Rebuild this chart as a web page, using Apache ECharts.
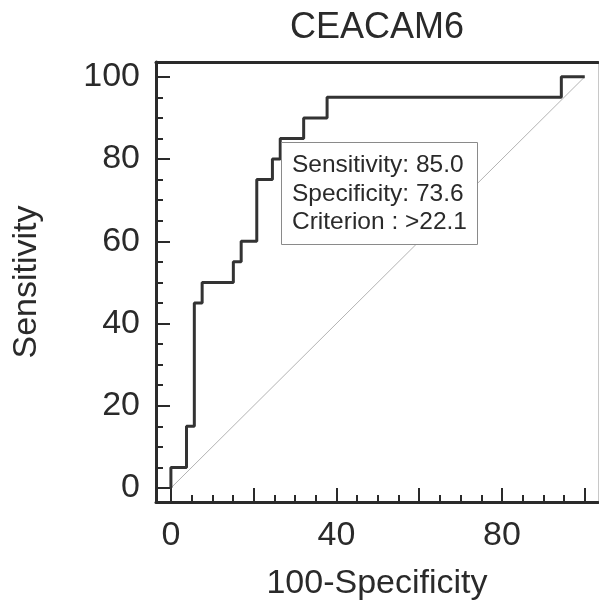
<!DOCTYPE html>
<html>
<head>
<meta charset="utf-8">
<script src="https://cdn.jsdelivr.net/npm/echarts@6/dist/echarts.min.js"></script>
<style>
html,body{margin:0;padding:0;background:#fff;}
#chart{width:599px;height:606px;}
</style>
</head>
<body>
<div id="chart"></div>
<script>
// ROC curve points (100-Specificity, Sensitivity), drawn as steps
var rocFpr  = [0, 0, 3.77, 5.66, 7.55, 15.09, 16.98, 20.75, 24.53, 26.42, 32.08, 37.74, 94.34, 100];
var rocSens = [0, 5, 15,   45,   50,   55,    60,    75,    80,    85,    90,    95,    100,   100];
// Reference diagonal
var diagX = [0, 100];
var diagY = [0, 100];
// Axis ticks and labels
var xMajorTicks = [0, 20, 40, 60, 80, 100];
var xMinorTicks = [5, 10, 15, 25, 30, 35, 45, 50, 55, 65, 70, 75, 85, 90, 95];
var xTickLabels = [0, 40, 80];
var yMajorTicks = [0, 20, 40, 60, 80, 100];
var yMinorTicks = [5, 10, 15, 25, 30, 35, 45, 50, 55, 65, 70, 75, 85, 90, 95];
var yTickLabels = [0, 20, 40, 60, 80, 100];
// Annotation box text
var boxLines = ['Sensitivity: 85.0', 'Specificity: 73.6', 'Criterion : >22.1'];

var FONT = 'Liberation Sans, Arial, sans-serif';
var INK = '#2a2a2a';
var X_MIN = -3.6, X_MAX = 103.2, Y_MIN = -3.4, Y_MAX = 103.6;

function zip(a, b) { return a.map(function (v, i) { return [v, b[i]]; }); }

var chart = echarts.init(document.getElementById('chart'), null, {renderer: 'canvas'});

function baseAxis(extra) {
  var o = {
    type: 'value',
    splitLine: {show: false},
    axisLine: {show: false, onZero: false},
    axisTick: {show: false},
    axisLabel: {show: false},
    axisPointer: {show: false}
  };
  for (var k in extra) o[k] = extra[k];
  return o;
}

var option = {
  animation: false,
  backgroundColor: '#fff',
  title: {
    text: 'CEACAM6',
    left: 377, textAlign: 'center',
    top: 10,
    padding: 0,
    textStyle: {fontFamily: FONT, fontSize: 36, fontWeight: 'normal', color: INK}
  },
  grid: {left: 156, right: 1, top: 62, bottom: 102, containLabel: false},
  xAxis: [
    baseAxis({
      position: 'bottom', min: X_MIN, max: X_MAX,
      axisLine: {show: true, onZero: false, lineStyle: {color: INK, width: 3}},
      axisTick: {show: true, inside: true, length: 14, customValues: xMajorTicks, lineStyle: {color: INK, width: 2}},
      axisLabel: {show: true, customValues: xTickLabels, margin: 17, fontFamily: FONT, fontSize: 34, color: INK},
      name: '100-Specificity', nameLocation: 'middle', nameGap: 65,
      nameTextStyle: {fontFamily: FONT, fontSize: 34, color: INK}
    }),
    baseAxis({
      position: 'bottom', min: X_MIN, max: X_MAX,
      axisTick: {show: true, inside: true, length: 7, customValues: xMinorTicks, lineStyle: {color: INK, width: 2}}
    }),
    baseAxis({
      position: 'top', min: X_MIN, max: X_MAX,
      axisLine: {show: true, onZero: false, lineStyle: {color: INK, width: 3}}
    })
  ],
  yAxis: [
    baseAxis({
      position: 'left', min: Y_MIN, max: Y_MAX,
      axisLine: {show: true, onZero: false, lineStyle: {color: INK, width: 3}},
      axisTick: {show: true, inside: true, length: 14, customValues: yMajorTicks, lineStyle: {color: INK, width: 2}},
      axisLabel: {show: true, customValues: yTickLabels, margin: 16, fontFamily: FONT, fontSize: 34, color: INK},
      name: 'Sensitivity', nameLocation: 'middle', nameGap: 112, nameRotate: 90,
      nameTextStyle: {fontFamily: FONT, fontSize: 34, color: INK}
    }),
    baseAxis({
      position: 'left', min: Y_MIN, max: Y_MAX,
      axisTick: {show: true, inside: true, length: 7, customValues: yMinorTicks, lineStyle: {color: INK, width: 2}}
    }),
    baseAxis({
      position: 'right', min: Y_MIN, max: Y_MAX,
      axisLine: {show: true, onZero: false, lineStyle: {color: '#c8c8c8', width: 1}}
    })
  ],
  series: [
    {
      type: 'line', xAxisIndex: 0, yAxisIndex: 0,
      data: zip(diagX, diagY),
      showSymbol: false, silent: true,
      lineStyle: {color: '#b4b4b4', width: 1}
    },
    {
      type: 'line', xAxisIndex: 0, yAxisIndex: 0,
      data: zip(rocFpr, rocSens),
      step: 'end',
      showSymbol: false, silent: true,
      lineStyle: {color: '#333333', width: 3}
    }
  ],
  graphic: [
    {
      type: 'rect', left: 281, top: 142, z: 100,
      shape: {width: 196, height: 102},
      style: {fill: '#fff', stroke: '#8a8a8a', lineWidth: 1}
    },
    {
      type: 'text', left: 292, top: 151, z: 101,
      style: {
        text: boxLines.join('\n'),
        fontFamily: FONT, fontSize: 24.5, lineHeight: 28.5, fill: INK
      }
    }
  ]
};
chart.setOption(option);
</script>
</body>
</html>
